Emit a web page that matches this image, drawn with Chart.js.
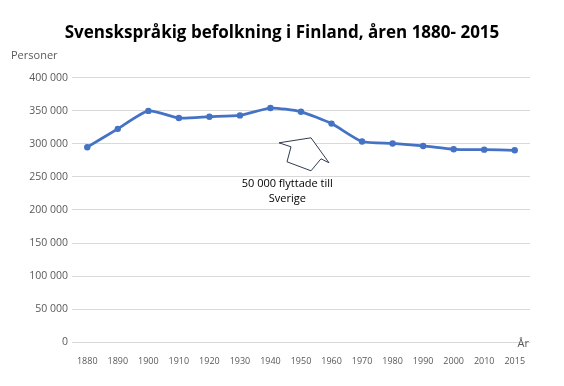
<!DOCTYPE html>
<html>
<head>
<meta charset="utf-8">
<script src="https://cdn.jsdelivr.net/npm/chart.js@4.4.1/dist/chart.umd.min.js"></script>
<style>
  html, body { margin: 0; padding: 0; background: #fff; }
  #wrap { width: 564px; height: 386px; }
</style>
</head>
<body>
<div id="wrap"><canvas id="popChart"></canvas></div>
<script>
// Svenskspråkig befolkning i Finland
var years = ['1880', '1890', '1900', '1910', '1920', '1930', '1940', '1950',
             '1960', '1970', '1980', '1990', '2000', '2010', '2015'];
var persons = [294876, 322604, 349733, 338961, 340963, 342914, 354018, 348303,
               330528, 303406, 300482, 296738, 291657, 291153, 290161];
var titleText = 'Svenskspråkig befolkning i Finland, åren 1880- 2015';
var noteLines = ['50 000 flyttade till', 'Sverige'];

var blue = '#4472C4';
var grey = '#595959';

function fmt(v) {
  return String(v).replace(/\B(?=(\d{3})+(?!\d))/g, ' ');
}

// title, axis captions, arrow and note
var extras = {
  id: 'extras',
  afterDraw: function(chart) {
    var ctx = chart.ctx;
    var area = chart.chartArea;
    var x = chart.scales.x, y = chart.scales.y;
    ctx.save();
    ctx.fillStyle = '#000';
    ctx.font = 'bold 17px "Open Sans"';
    ctx.textAlign = 'center';
    ctx.textBaseline = 'middle';
    ctx.fillText(titleText, 282, 33);

    ctx.fillStyle = grey;
    ctx.font = '11px "Open Sans"';
    ctx.textAlign = 'left';
    ctx.fillText('Personer', 11, 56);
    ctx.textAlign = 'right';
    ctx.fillText('År', area.right - 1, y.getPixelForValue(0) + 1);

    // block arrow near 1950
    var ax = x.getPixelForValue(7), ay = y.getPixelForValue(300000);
    var pts = [[-22, -1], [10, -6], [28, 19], [20, 15], [10, 27], [-14, 18], [-10, 3]];
    ctx.beginPath();
    pts.forEach(function(p, i) {
      if (i === 0) ctx.moveTo(ax + p[0], ay + p[1]);
      else ctx.lineTo(ax + p[0], ay + p[1]);
    });
    ctx.closePath();
    ctx.fillStyle = '#fff';
    ctx.fill();
    ctx.strokeStyle = '#2f3b52';
    ctx.lineWidth = 1;
    ctx.stroke();

    // note text
    ctx.fillStyle = '#000';
    ctx.font = '11px "Open Sans"';
    ctx.textAlign = 'center';
    var tx = x.getPixelForValue(6.55);
    ctx.fillText(noteLines[0], tx, y.getPixelForValue(239000));
    ctx.fillText(noteLines[1], tx, y.getPixelForValue(217000));
    ctx.restore();
  }
};

new Chart(document.getElementById('popChart'), {
  type: 'line',
  data: {
    labels: years,
    datasets: [{
      label: 'Personer',
      data: persons,
      borderColor: blue,
      backgroundColor: blue,
      borderWidth: 2.75,
      pointRadius: 3.2,
      pointBackgroundColor: blue,
      pointBorderWidth: 0,
      tension: 0.2
    }]
  },
  options: {
    responsive: true,
    maintainAspectRatio: false,
    animation: false,
    layout: { padding: { left: 0, right: 34, top: 77.6, bottom: 0 } },
    plugins: {
      legend: { display: false },
      tooltip: { enabled: false },
      title: { display: false }
    },
    scales: {
      x: {
        offset: true,
        grid: { display: false },
        border: { display: false },
        ticks: {
          color: grey,
          font: { family: 'Open Sans', size: 9 },
          maxRotation: 0,
          autoSkip: false,
          padding: 6
        },
        afterFit: function(s) { s.height = 43.6; }
      },
      y: {
        min: 0,
        max: 400000,
        grid: { color: '#d9d9d9', drawTicks: false },
        border: { display: false },
        ticks: {
          stepSize: 50000,
          color: grey,
          padding: 4,
          font: { family: 'Open Sans', size: 10.5 },
          callback: function(v) { return fmt(v); }
        },
        afterFit: function(s) { s.width = 72; }
      }
    }
  },
  plugins: [extras]
});
</script>
</body>
</html>
